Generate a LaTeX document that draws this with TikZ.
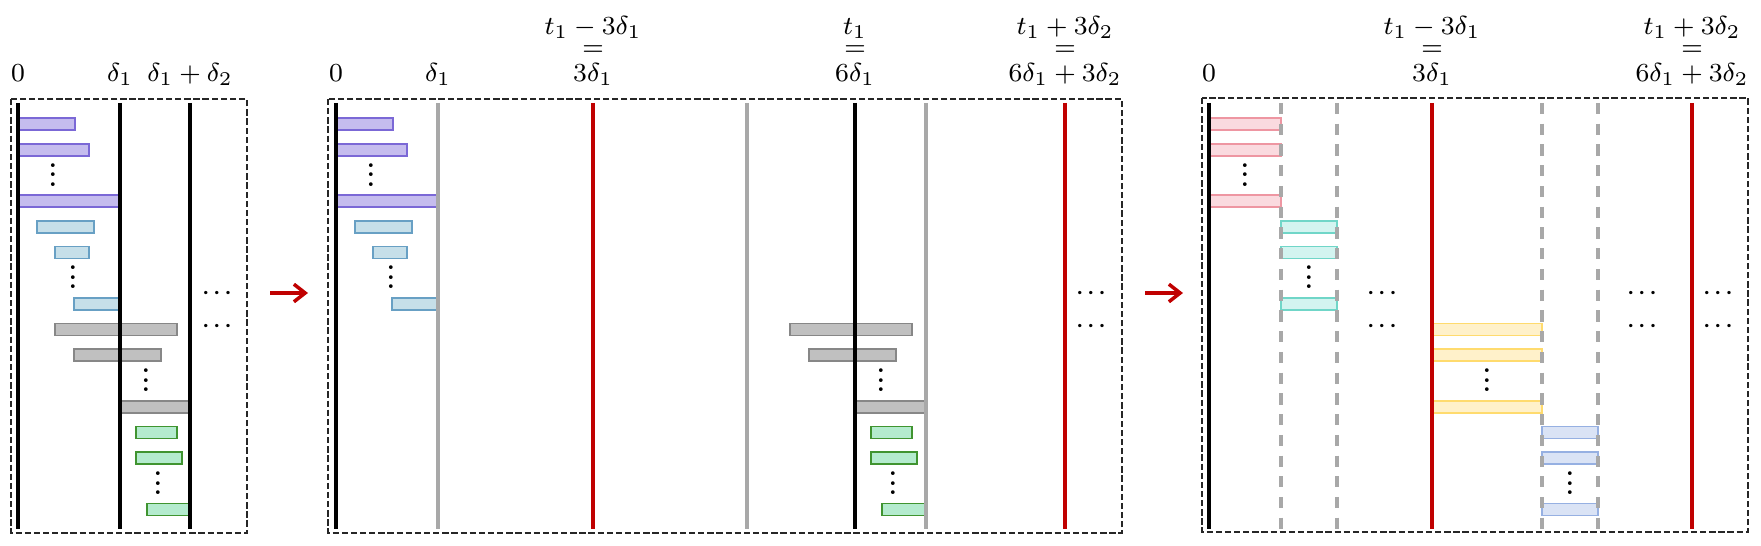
\documentclass[tikz,border=0pt]{standalone}
\usepackage{xcolor}
\definecolor{lineRed}{RGB}{192,0,0}
\definecolor{lineGray}{RGB}{168,168,168}
\definecolor{purpleFill}{RGB}{197,188,238}
\definecolor{purpleDraw}{RGB}{123,104,214}
\definecolor{blueFill}{RGB}{198,223,233}
\definecolor{blueDraw}{RGB}{104,160,196}
\definecolor{grayFill}{RGB}{192,192,192}
\definecolor{grayDraw}{RGB}{135,135,135}
\definecolor{greenFill}{RGB}{180,235,206}
\definecolor{greenDraw}{RGB}{64,148,48}
\definecolor{pinkFill}{RGB}{250,218,223}
\definecolor{pinkDraw}{RGB}{238,150,162}
\definecolor{cyanFill}{RGB}{211,244,240}
\definecolor{cyanDraw}{RGB}{112,214,200}
\definecolor{yellowFill}{RGB}{255,241,202}
\definecolor{yellowDraw}{RGB}{255,219,110}
\definecolor{lblueFill}{RGB}{218,227,245}
\definecolor{lblueDraw}{RGB}{150,176,226}
\usepackage{tikz}
\usetikzlibrary{arrows.meta}
\usepackage{amsmath,amssymb}

\begin{document}
\begin{tikzpicture}[x=0.1mm,y=-0.1mm,
  lab/.style={anchor=base,inner sep=0pt,font=\footnotesize,scale=0.925},
  hdots/.style={anchor=base,inner sep=0pt,scale=0.62,font=\boldmath},
  vdotsn/.style={anchor=base,inner sep=0pt,scale=0.68,font=\bfseries},
  panel/.style={draw=black!85,line width=0.45pt,dash pattern=on 1.8pt off 0.8pt},
  job/.style={fill=#1Fill,draw=#1Draw,line width=0.5pt},
  tline/.style={line width=1.1pt},
  rline/.style={draw=lineRed,line width=0.9pt},
  gline/.style={draw=lineGray,line width=0.9pt},
  gdash/.style={draw=lineGray,line width=0.9pt,dash pattern=on 3.2pt off 2.7pt},
  flow/.style={draw=lineRed,line width=1pt,-{Straight Barb[length=3.2pt,width=5pt]}}]
\useasboundingbox (0,0) rectangle (1761,546);

% windows
\draw[panel] (11,99) rectangle (247,533);
\draw[panel] (328,99) rectangle (1122,533);
\draw[panel] (1202,98) rectangle (1748,532);

% jobs of the first two windows (second one shifted by \s)
\foreach \r/\xa/\xb/\c/\s in {0/18/75/purple/318,1/18/89/purple/318,3/18/120/purple/318,
  4/37/94/blue/318,5/55/89/blue/318,7/74/120/blue/318,
  8/55/177/gray/735,9/74/161/gray/735,11/120/190/gray/735,
  12/136/177/green/735,13/136/182/green/735,15/147/190/green/735}{
  \draw[job=\c] (\xa,124+25.7*\r-6) rectangle (\xb,124+25.7*\r+6);
  \draw[job=\c] (\xa+\s,124+25.7*\r-6) rectangle (\xb+\s,124+25.7*\r+6);
}
% jobs of the third window
\foreach \r/\xa/\xb/\c in {0/1209/1281/pink,1/1209/1281/pink,3/1209/1281/pink,
  4/1281/1337/cyan,5/1281/1337/cyan,7/1281/1337/cyan,
  8/1432/1542/yellow,9/1432/1542/yellow,11/1432/1542/yellow,
  12/1542/1598/lblue,13/1542/1598/lblue,15/1542/1598/lblue}
  \draw[job=\c] (\xa,124+25.7*\r-6) rectangle (\xb,124+25.7*\r+6);

% time lines
\draw[tline] (18,103) -- (18,529);
\draw[tline] (120,103) -- (120,529);
\draw[tline] (190,103) -- (190,529);
\draw[tline] (336,103) -- (336,529);
\draw[gline] (438,103) -- (438,529);
\draw[rline] (593,103) -- (593,529);
\draw[gline] (747,103) -- (747,529);
\draw[tline] (855,103) -- (855,529);
\draw[gline] (926,103) -- (926,529);
\draw[rline] (1065,103) -- (1065,529);
\draw[tline] (1209,103) -- (1209,529);
\draw[gdash] (1281,103) -- (1281,529);
\draw[gdash] (1337,103) -- (1337,529);
\draw[rline] (1432,103) -- (1432,529);
\draw[gdash] (1542,103) -- (1542,529);
\draw[gdash] (1598,103) -- (1598,529);
\draw[rline] (1692,103) -- (1692,529);

% labels
\node[lab] (zeroA) at (18,82) {$0$};
\node[lab] (deltaA) at (120,82) {$\delta_1$};
\node[lab] (sumA) at (190,82) {$\delta_1+\delta_2$};
\node[lab] (zeroB) at (336,82) {$0$};
\node[lab] (deltaB) at (438,82) {$\delta_1$};
\node[lab] (startB) at (593,35) {$t_1-3\delta_1$};
\node[lab] (startBeq) at (593,56) {$=$};
\node[lab] (startBv) at (593,82) {$3\delta_1$};
\node[lab] (midB) at (855,35) {$t_1$};
\node[lab] (midBeq) at (855,56) {$=$};
\node[lab] (midBv) at (855,82) {$6\delta_1$};
\node[lab] (endB) at (1065,35) {$t_1+3\delta_2$};
\node[lab] (endBeq) at (1065,56) {$=$};
\node[lab] (endBv) at (1065,82) {$6\delta_1+3\delta_2$};
\node[lab] (zeroC) at (1209,82) {$0$};
\node[lab] (startC) at (1432,35) {$t_1-3\delta_1$};
\node[lab] (startCeq) at (1432,56) {$=$};
\node[lab] (startCv) at (1432,82) {$3\delta_1$};
\node[lab] (endC) at (1692,35) {$t_1+3\delta_2$};
\node[lab] (endCeq) at (1692,56) {$=$};
\node[lab] (endCv) at (1692,82) {$6\delta_1+3\delta_2$};

% dots
\foreach \x/\r [count=\i] in {53/2,73/6,146/10,158/14,371/2,391/6,881/10,893/14,
  1245/2,1309/6,1487/10,1570/14}
  \node[vdotsn] (vd\i) at (\x,124+25.7*\r+10.8) {$\vdots$};
\foreach \x [count=\i] in {219,1093,1384,1644,1720}{
  \node[hdots] (hdA\i) at (\x,298.5) {$\cdots$};
  \node[hdots] (hdB\i) at (\x,331.5) {$\cdots$};
}

% arrows
\coordinate (arrA) at (270,293);
\coordinate (arrAe) at (308,293);
\coordinate (arrB) at (1145,293);
\coordinate (arrBe) at (1183,293);
\draw[flow] (arrA) -- (arrAe);
\draw[flow] (arrB) -- (arrBe);
\end{tikzpicture}
\end{document}
